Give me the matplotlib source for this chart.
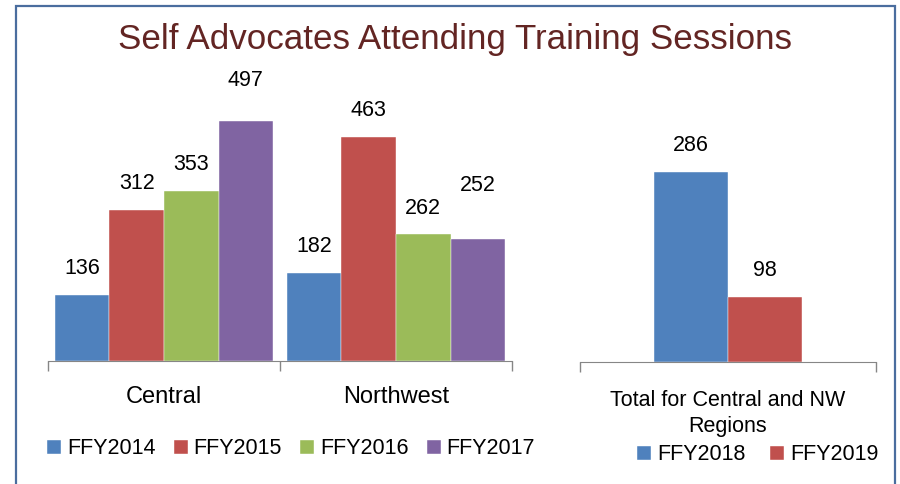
import matplotlib
matplotlib.use('Agg')
import matplotlib.pyplot as plt
from matplotlib.patches import Rectangle
import numpy as np

# data
regions = ['Central', 'Northwest']
years_left = ['FFY2014', 'FFY2015', 'FFY2016', 'FFY2017']
attend_left = [
    [136, 182],   # FFY2014
    [312, 463],   # FFY2015
    [353, 262],   # FFY2016
    [497, 252],   # FFY2017
]
total_label = 'Total for Central and NW\nRegions'
years_right = ['FFY2018', 'FFY2019']
attend_right = [286, 98]

colors = ['#4f81bd', '#c0504d', '#9bbb59', '#8064a2']
TITLE_COLOR = '#632523'
AXIS_GREY = '#868686'
plt.rcParams['font.family'] = ['Liberation Sans', 'DejaVu Sans']
FS = 15.5

W, H = 900, 484
fig = plt.figure(figsize=(W / 100, H / 100), dpi=100)

# outer frame
fig.patches.append(Rectangle((15.5 / W, -0.05), 879.5 / W, 1 - 5.5 / H + 0.05,
                             transform=fig.transFigure, fill=False,
                             edgecolor='#4a6d9e', linewidth=1.6))

fig.text(455 / W, 1 - 40 / H, 'Self Advocates Attending Training Sessions',
         ha='center', va='center', fontsize=25.2, color=TITLE_COLOR)


def style_axis(ax, n_cat, label_size, pad):
    for s in ['top', 'left', 'right']:
        ax.spines[s].set_visible(False)
    ax.spines['bottom'].set_color(AXIS_GREY)
    ax.set_yticks([])
    ax.set_xlim(0, n_cat)
    ax.set_xticks(np.arange(n_cat + 1))
    ax.set_xticklabels([])
    ax.tick_params(axis='x', which='major', direction='out', length=7,
                   color=AXIS_GREY, width=1)
    ax.set_xticks(np.arange(n_cat) + 0.5, minor=True)
    ax.tick_params(axis='x', which='minor', length=0, pad=pad,
                   labelsize=label_size)


def label_bars(ax, bars, values, extra=None):
    for i, (b, v) in enumerate(zip(bars, values)):
        off = 19 + (extra or {}).get(i, 0)
        ax.annotate(str(v), (b.get_x() + b.get_width() / 2, b.get_height()),
                    xytext=(0, off), textcoords='offset points',
                    ha='center', va='center', fontsize=FS)


# left panel: Central / Northwest
ax1 = fig.add_axes([48 / W, (H - 361) / H, 464 / W, 291 / H])
bw = 0.235
x = np.arange(len(regions)) + 0.5
nudges = [{}, {}, {}, {0: 10, 1: 20}]  # hand-moved labels in the original
handles_left = []
for i, (yr, vals) in enumerate(zip(years_left, attend_left)):
    bars = ax1.bar(x + (i - 1.5) * bw, vals, bw, color=colors[i], label=yr,
                   edgecolor='white', linewidth=0.3)
    handles_left.append(bars)
    label_bars(ax1, bars, vals, nudges[i])
ax1.set_ylim(0, 291 / 0.483)
style_axis(ax1, len(regions), 17, 18)
ax1.set_xticklabels(regions, minor=True)

# right panel: total
ax2 = fig.add_axes([580 / W, (H - 362) / H, 296 / W, 292 / H])
bw2 = 0.25
handles_right = []
for i, (yr, v) in enumerate(zip(years_right, attend_right)):
    bars = ax2.bar([0.5 + (i - 0.5) * bw2], [v], bw2, color=colors[i], label=yr,
                   edgecolor='white', linewidth=0.3)
    handles_right.append(bars)
    label_bars(ax2, bars, [v])
ax2.set_ylim(0, 292 / 0.663)
style_axis(ax2, 1, FS, 20)
ax2.set_xticklabels([total_label], minor=True, linespacing=1.3)

leg_kw = dict(frameon=False, fontsize=FS, handlelength=0.65, handleheight=0.65,
              handletextpad=0.28, borderpad=0, borderaxespad=0, loc='center left')
fig.legend(handles=handles_left, labels=years_left, ncol=4,
           bbox_to_anchor=(47 / W, 1 - 449 / H), columnspacing=0.84, **leg_kw)
fig.legend(handles=handles_right, labels=years_right, ncol=2,
           bbox_to_anchor=(637 / W, 1 - 455 / H), columnspacing=1.16, **leg_kw)

plt.savefig('out.png', dpi=100)
plt.close()
